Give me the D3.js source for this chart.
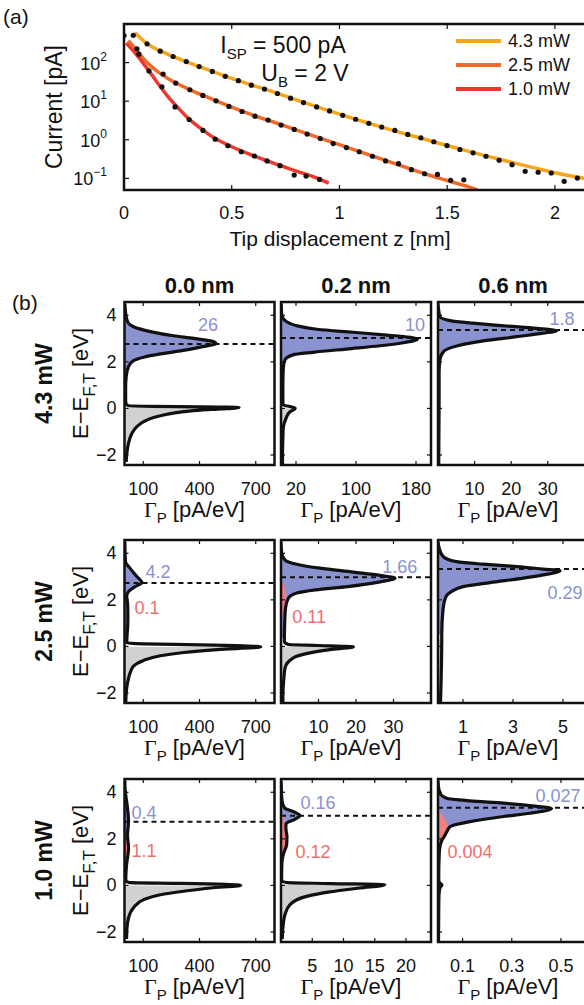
<!DOCTYPE html>
<html><head><meta charset="utf-8">
<script src="https://cdn.jsdelivr.net/npm/d3@7"></script>
<style>
body{margin:0;background:#fff;}
text{font-family:"Liberation Sans",Arial,sans-serif;fill:#111;}
</style></head><body><div id="a"></div>
<script>
// ---------- panel (a) data : z [nm], current [pA]
var zTicks = [0, 0.5, 1, 1.5, 2],
	iTicks = [0.1, 1, 10, 100],
	iTickExp = ["\u22121", "0", "1", "2"],
	powerNames = ["4.3 mW", "2.5 mW", "1.0 mW"];

var fit43 = [[0.05,600],[0.1,330],[0.2,168],[0.3,100],[0.4,62],[0.5,39],[0.6,25.5],[0.7,17],[0.8,10.8],[0.9,7.0],[1.0,4.6],[1.1,3.1],[1.2,2.1],[1.3,1.45],[1.4,1.02],[1.5,0.71],[1.6,0.50],[1.7,0.36],[1.8,0.26],[1.9,0.19],[2.0,0.14],[2.14,0.1]];
var dots43 = [[0,500],[0.043,510],[0.107,307],[0.168,198],[0.228,144],[0.289,106],[0.349,79],[0.41,59],[0.47,44],[0.531,34],[0.591,26],[0.652,20.6],[0.712,15.8],[0.773,12.0],[0.833,9.2],[0.894,7.1],[0.954,5.6],[1.015,4.3],[1.075,3.4],[1.136,2.67],[1.196,2.14],[1.257,1.75],[1.317,1.38],[1.378,1.13],[1.438,0.89],[1.499,0.71],[1.559,0.56],[1.62,0.46],[1.68,0.375],[1.741,0.295],[1.801,0.227],[1.862,0.152],[1.922,0.144],[1.983,0.138],[2.043,0.084],[2.104,0.102]];
var fit25 = [[0.02,370],[0.05,240],[0.1,110],[0.15,62],[0.2,40],[0.3,20.5],[0.4,11.8],[0.5,7.0],[0.6,4.3],[0.7,2.8],[0.8,1.8],[0.9,1.15],[1.0,0.75],[1.1,0.48],[1.2,0.31],[1.3,0.2],[1.4,0.13],[1.5,0.088],[1.6,0.06],[1.64,0.05]];
var dots25 = [[0.06,228],[0.1815,50.6],[0.24,29.5],[0.306,19.8],[0.366,14.1],[0.427,10.2],[0.487,7.3],[0.548,5.4],[0.608,4.1],[0.669,3.26],[0.729,2.41],[0.79,1.86],[0.85,1.41],[0.911,1.08],[0.971,0.80],[1.032,0.63],[1.092,0.49],[1.153,0.375],[1.214,0.283],[1.274,0.241],[1.334,0.168],[1.395,0.132],[1.455,0.127],[1.516,0.089],[1.577,0.092]];
var fit10 = [[0.01,320],[0.05,180],[0.1,80],[0.15,33],[0.2,14],[0.25,6.8],[0.3,3.5],[0.35,2.1],[0.4,1.3],[0.5,0.66],[0.6,0.39],[0.7,0.24],[0.8,0.155],[0.9,0.1],[0.95,0.075]];
var dots10 = [[0.069,165],[0.116,60.7],[0.176,23.7],[0.237,7.1],[0.3025,3.33],[0.3665,1.75],[0.4235,1.04],[0.482,0.70],[0.5445,0.49],[0.605,0.38],[0.664,0.283],[0.724,0.214],[0.79,0.122],[0.845,0.115],[0.9075,0.094]];

// ---------- panel (b) data : [E - E_F,T (eV), Gamma_P (pA/eV)]
var distances = ["0.0 nm", "0.2 nm", "0.6 nm"];
var eTicks = [-2, 0, 2, 4];

var up11 = [[4.5,2],[3.94,9],[3.66,21],[3.51,48],[3.3,138],[3.12,262],[3.01,370],[2.9,459],[2.79,488],[2.63,405],[2.47,298],[2.34,191],[2.2,102],[2.05,48],[1.79,21],[1.36,9],[0.9,6],[0.4,6]];
var lo11 = [[0.2,8],[0.12,20],[0.09,150],[0.07,400],[0.04,611],[-0.02,520],[-0.07,405],[-0.14,316],[-0.25,227],[-0.39,155],[-0.57,102],[-0.78,66],[-1.07,39.5],[-1.49,21.5],[-1.92,12.6],[-2.3,9]];
var up12 = [[4.5,0.3],[4.01,1],[3.72,7.5],[3.55,21],[3.4,48],[3.27,96],[3.15,141],[3.05,172],[2.98,182],[2.82,163],[2.69,132],[2.55,87],[2.41,43],[2.3,16],[2.08,5.3],[1.72,3],[1.0,2.5],[0.4,2.5]];
var lo12 = [[0.3,2.5],[0.15,3],[0.08,12],[0.01,19],[-0.14,12],[-0.42,6.7],[-0.85,3],[-1.28,2.5],[-2.0,2],[-2.4,2]];
var up13 = [[4.51,0],[3.94,0.5],[3.77,3.3],[3.66,9.6],[3.54,18.7],[3.44,26.9],[3.34,32.4],[3.23,28.7],[3.08,21.5],[2.9,12.4],[2.68,5.1],[2.44,1.5],[2.08,0.5],[1.5,0.3],[0.5,0.3]];
var lo13 = [[0.3,0.3],[-2.4,0.2]];
var up21 = [[4.5,2],[3.64,5],[3.35,30],[3.0,66],[2.74,93],[2.57,57],[2.35,21],[2.14,12],[1.8,17],[1.3,18],[0.85,17],[0.4,13],[0.2,12]];
var lo21 = [[0.15,14],[0.11,100],[0.07,400],[-0.02,727],[-0.14,495],[-0.26,316],[-0.4,191],[-0.6,102],[-0.85,48],[-1.14,30],[-1.57,16],[-2.0,9],[-2.4,7]];
var red21 = [[2.6,0],[2.3,4],[2.0,8],[1.6,10],[1.2,8],[0.8,4],[0.5,0]];
var up22 = [[4.5,0],[4.0,0.2],[3.71,1.07],[3.53,4.2],[3.36,10.4],[3.19,19.3],[3.05,26.4],[2.93,30.4],[2.76,26],[2.57,17.8],[2.43,9.2],[2.29,4.2],[2.07,1.96],[1.65,1.2],[1.07,1.0],[0.36,0.9]];
var lo22 = [[0.2,0.9],[0.08,2],[0.04,10],[-0.02,19.3],[-0.14,13],[-0.28,7.7],[-0.49,3.3],[-0.92,1.07],[-1.5,0.7],[-2.07,0.5],[-2.4,0.5]];
var red22 = [[2.9,0],[2.6,0.8],[2.2,1.4],[1.9,1.3],[1.6,0.8],[1.3,0.3],[1.0,0]];
var up23 = [[4.5,0],[4.21,0.05],[3.86,0.21],[3.64,0.75],[3.53,1.81],[3.43,3.15],[3.32,4.21],[3.25,4.88],[3.07,4.21],[2.93,3.41],[2.74,2.08],[2.57,1.01],[2.36,0.55],[2.14,0.32],[1.57,0.2],[0.5,0.15]];
var lo23 = [[0.3,0.15],[-2.4,0.1]];
var up31 = [[4.5,2],[4.17,3],[3.32,16],[2.74,21.5],[2.17,16],[1.6,21.5],[0.89,11],[0.32,7]];
var lo31 = [[0.2,7],[0.12,30],[0.09,300],[0.0,620],[-0.11,459],[-0.25,316],[-0.4,191],[-0.61,102],[-0.96,48],[-1.39,21.5],[-1.89,12.6],[-2.3,11]];
var red31 = [[2.3,0],[2.0,10],[1.6,15],[1.2,10],[0.9,0]];
var up32 = [[4.5,0],[4.2,0.05],[3.81,0.1],[3.53,0.25],[3.32,0.6],[3.14,2.2],[3.0,3.05],[2.84,2.2],[2.65,0.8],[2.45,0.78],[2.1,0.95],[1.75,0.9],[1.4,0.45],[1.0,0.15],[0.4,0.1]];
var lo32 = [[0.2,0.1],[0.12,1],[0.08,8],[0.03,16.6],[-0.11,12.6],[-0.28,7.8],[-0.47,4.1],[-0.82,1.44],[-1.25,0.64],[-1.82,0.3],[-2.3,0.2]];
var red32 = [[3.3,0],[3.0,0.3],[2.7,0.6],[2.3,0.75],[1.9,0.85],[1.6,0.6],[1.3,0.2],[1.1,0]];
var up33 = [[4.5,0],[4.31,0.001],[3.96,0.008],[3.74,0.035],[3.63,0.13],[3.53,0.266],[3.43,0.374],[3.3,0.462],[3.1,0.374],[2.96,0.266],[2.74,0.13],[2.53,0.05],[2.31,0.036],[2.1,0.025],[1.89,0.014],[1.6,0.007],[1.32,0.005],[0.46,0.003]];
var lo33 = [[0.2,0.003],[0.08,0.01],[0.02,0.016],[-0.1,0.008],[-0.4,0.004],[-1.0,0.003],[-2.4,0.002]];
var red33 = [[3.35,0],[3.1,0.012],[2.8,0.03],[2.55,0.04],[2.3,0.032],[2.0,0.018],[1.7,0.007],[1.45,0]];

var dashE = [2.77, 3.02, 3.37, 2.72, 2.97, 3.32, 2.73, 2.99, 3.33];
var gDomains = [[0,800],[0,200],[0,41],[0,800],[0,40],[0,6],[0,800],[0,24],[0,0.61]];
var gTicks = [[100,400,700],[20,100,180],[10,20,30],[100,400,700],[10,20,30],[1,3,5],[100,400,700],[5,10,15,20],[0.1,0.3,0.5]];
// peak value labels [text, colour key, Gamma, E]
var peakLabels = [
	[["26","b",445,3.58]],
	[["10","b",178.7,3.58]],
	[["1.8","b",33.9,3.84]],
	[["4.2","b",178.7,3.2],["0.1","r",120,1.65]],
	[["1.66","b",31.7,3.41],["0.11","r",7.5,1.26]],
	[["0.29","b",5.08,2.29]],
	[["0.4","b",104,3.11],["1.1","r",104,1.48]],
	[["0.16","b",5.92,3.54],["0.12","r",5.12,1.44]],
	[["0.027","b",0.488,3.84],["0.004","r",0.13,1.44]]
];

var uppers = [up11,up12,up13,up21,up22,up23,up31,up32,up33],
	lowers = [lo11,lo12,lo13,lo21,lo22,lo23,lo31,lo32,lo33],
	reds   = [null,null,null,red21,red22,null,red31,red32,red33];

// colours
var lineCols = ["#f7a51e", "#f16a2a", "#ea3a2f"],
	blueFill = "#8a93cf", grayFill = "#cfd1d2", redFill = "#f27f7f",
	blueTxt = "#8a92d2", redTxt = "#ef6f6f";

var svg = d3.select("#a").append("svg")
	.attr("width", 584).attr("height", 1005)
	.style("background-color", "#fff");
var defs = svg.append("defs");

// =========== (a)
var aTop = 24, aBot = 190;
var ax = d3.scaleLinear().domain([0, 2.135]).range([124, 584]),
	ay = d3.scaleLog().domain([0.05, 1000]).range([aBot, aTop]);

defs.append("clipPath").attr("id", "clipA").append("rect")
	.attr("x", 124).attr("y", aTop).attr("width", 460).attr("height", aBot - aTop);

var ga = svg.append("g");
var pa = ga.append("g").attr("clip-path", "url(#clipA)");
var lineA = d3.line().curve(d3.curveMonotoneX)
	.x(function(d){return ax(d[0]);}).y(function(d){return ay(d[1]);});

[fit43, fit25, fit10].forEach(function(f, i){
	pa.append("path").attr("d", lineA(f)).attr("fill", "none")
		.attr("stroke", lineCols[i]).attr("stroke-width", 3.5);
});
[dots43, dots25, dots10].forEach(function(ds){
	pa.selectAll(null).data(ds).enter().append("circle")
		.attr("cx", function(d){return ax(d[0]);})
		.attr("cy", function(d){return ay(d[1]);})
		.attr("r", 2.6).attr("fill", "#111");
});

ga.append("rect").attr("x", 124).attr("y", aTop).attr("width", 462).attr("height", aBot - aTop)
	.attr("fill", "none").attr("stroke", "#111").attr("stroke-width", 2.5);

zTicks.forEach(function(z){
	ga.append("line").attr("x1", ax(z)).attr("x2", ax(z)).attr("y1", aBot).attr("y2", aBot - 5).attr("stroke", "#111").attr("stroke-width", 1.2);
	ga.append("line").attr("x1", ax(z)).attr("x2", ax(z)).attr("y1", aTop).attr("y2", aTop + 5).attr("stroke", "#111").attr("stroke-width", 1.2);
	ga.append("text").attr("x", ax(z)).attr("y", aBot + 29).attr("text-anchor", "middle")
		.attr("font-size", 18).text(z);
});
iTicks.forEach(function(v, i){
	ga.append("line").attr("x1", 124).attr("x2", 129).attr("y1", ay(v)).attr("y2", ay(v)).attr("stroke", "#111").attr("stroke-width", 1.2);
	var t = ga.append("text").attr("x", 107).attr("y", ay(v) + 7).attr("text-anchor", "end").attr("font-size", 18);
	t.append("tspan").text("10");
	t.append("tspan").attr("font-size", 12).attr("dy", -9).text(iTickExp[i]);
});

ga.append("text").attr("x", 340).attr("y", 246).attr("text-anchor", "middle")
	.attr("font-size", 21).text("Tip displacement z [nm]");
ga.append("text").attr("transform", "translate(62,107) rotate(-90)").attr("text-anchor", "middle")
	.attr("font-size", 23).text("Current [pA]");
ga.append("text").attr("x", 3).attr("y", 24).attr("font-size", 21).text("(a)");

var t1 = ga.append("text").attr("x", 283).attr("y", 53).attr("text-anchor", "middle").attr("font-size", 23);
t1.append("tspan").text("I");
t1.append("tspan").attr("font-size", 15).attr("dy", 6).text("SP");
t1.append("tspan").attr("dy", -6).text(" = 500 pA");
var t2 = ga.append("text").attr("x", 305).attr("y", 81).attr("text-anchor", "middle").attr("font-size", 23);
t2.append("tspan").text("U");
t2.append("tspan").attr("font-size", 15).attr("dy", 6).text("B");
t2.append("tspan").attr("dy", -6).text(" = 2 V");

powerNames.forEach(function(p, i){
	var yy = 41 + i * 24;
	ga.append("line").attr("x1", 456).attr("x2", 501).attr("y1", yy).attr("y2", yy)
		.attr("stroke", lineCols[i]).attr("stroke-width", 4);
	ga.append("text").attr("x", 508).attr("y", yy + 6).attr("font-size", 18).text(p);
});

// =========== (b)
var colX = [124.5, 281, 438], colW = 150,
	rowY = [302, 540, 779], rowH = 163;

svg.append("text").attr("x", 12).attr("y", 310).attr("font-size", 21).text("(b)");
distances.forEach(function(d, c){
	svg.append("text").attr("x", colX[c] + colW / 2).attr("y", 293).attr("text-anchor", "middle")
		.attr("font-size", 22).attr("font-weight", "bold").text(d);
});

for (var k = 0; k < 9; k++) {
	var r = Math.floor(k / 3), c = k % 3;
	var x0 = colX[c], y0 = rowY[r];
	var gx = d3.scaleLinear().domain(gDomains[k]).range([x0, x0 + colW]);
	var ey = d3.scaleLinear().domain([-2.43, 4.57]).range([y0 + rowH, y0]);
	var g = svg.append("g");

	defs.append("clipPath").attr("id", "clip" + k).append("rect")
		.attr("x", x0).attr("y", y0).attr("width", colW).attr("height", rowH);
	var p = g.append("g").attr("clip-path", "url(#clip" + k + ")");

	var area = d3.area().curve(d3.curveMonotoneY)
		.y(function(d){return ey(d[0]);})
		.x0(gx(0)).x1(function(d){return gx(d[1]);});
	var line = d3.line().curve(d3.curveMonotoneY)
		.y(function(d){return ey(d[0]);}).x(function(d){return gx(d[1]);});

	var up = uppers[k], lo = lowers[k];
	var tip = d3.maxIndex(lo, function(d){return d[1];});

	p.append("path").attr("d", area(up)).attr("fill", blueFill);
	p.append("path").attr("d", area(lo.slice(tip))).attr("fill", grayFill);
	if (reds[k]) p.append("path").attr("d", area(reds[k])).attr("fill", redFill);

	p.append("line").attr("x1", x0).attr("x2", x0 + colW)
		.attr("y1", ey(dashE[k])).attr("y2", ey(dashE[k]))
		.attr("stroke", "#111").attr("stroke-width", 2).attr("stroke-dasharray", "5,4");

	p.append("path").attr("d", line(up.concat(lo))).attr("fill", "none")
		.attr("stroke", "#111").attr("stroke-width", 3.2).attr("stroke-linejoin", "round");

	g.append("rect").attr("x", x0).attr("y", y0).attr("width", colW).attr("height", rowH)
		.attr("fill", "none").attr("stroke", "#111").attr("stroke-width", 2.5);

	gTicks[k].forEach(function(v){
		g.append("line").attr("x1", gx(v)).attr("x2", gx(v)).attr("y1", y0 + rowH).attr("y2", y0 + rowH - 4).attr("stroke", "#111").attr("stroke-width", 1.2);
		g.append("line").attr("x1", gx(v)).attr("x2", gx(v)).attr("y1", y0).attr("y2", y0 + 4).attr("stroke", "#111").attr("stroke-width", 1.2);
		g.append("text").attr("x", gx(v)).attr("y", y0 + rowH + 30).attr("text-anchor", "middle")
			.attr("font-size", 18).text(v);
	});
	eTicks.forEach(function(v){
		g.append("line").attr("x1", x0).attr("x2", x0 + 4).attr("y1", ey(v)).attr("y2", ey(v)).attr("stroke", "#111").attr("stroke-width", 1.2);
		g.append("line").attr("x1", x0 + colW).attr("x2", x0 + colW - 4).attr("y1", ey(v)).attr("y2", ey(v)).attr("stroke", "#111").attr("stroke-width", 1.2);
		if (c === 0) g.append("text").attr("x", x0 - 8).attr("y", ey(v) + 6).attr("text-anchor", "end")
			.attr("font-size", 18).text(v < 0 ? "\u2212" + (-v) : v);
	});

	var tt = g.append("text").attr("x", x0 + colW / 2 - 5).attr("y", y0 + rowH + 52)
		.attr("text-anchor", "middle").attr("font-size", 22);
	tt.append("tspan").attr("style", "font-family:'Liberation Serif',serif").text("\u0393");
	tt.append("tspan").attr("font-size", 15).attr("dy", 6).text("P");
	tt.append("tspan").attr("dy", -6).text(" [pA/eV]");

	peakLabels[k].forEach(function(l){
		g.append("text").attr("x", gx(l[2])).attr("y", ey(l[3]) + 6).attr("text-anchor", "middle")
			.attr("font-size", 18).style("fill", l[1] === "b" ? blueTxt : redTxt).text(l[0]);
	});

	if (c === 0) {
		var cy = y0 + rowH / 2;
		var et = g.append("text").attr("transform", "translate(88," + cy + ") rotate(-90)")
			.attr("text-anchor", "middle").attr("font-size", 22);
		et.append("tspan").text("E\u2212E");
		et.append("tspan").attr("font-size", 17).attr("dy", 7).text("F,T");
		et.append("tspan").attr("dy", -7).text(" [eV]");
		g.append("text").attr("transform", "translate(52," + cy + ") rotate(-90)")
			.attr("text-anchor", "middle").attr("font-size", 23).attr("font-weight", "bold")
			.text(powerNames[r]);
	}
}
</script></body></html>
